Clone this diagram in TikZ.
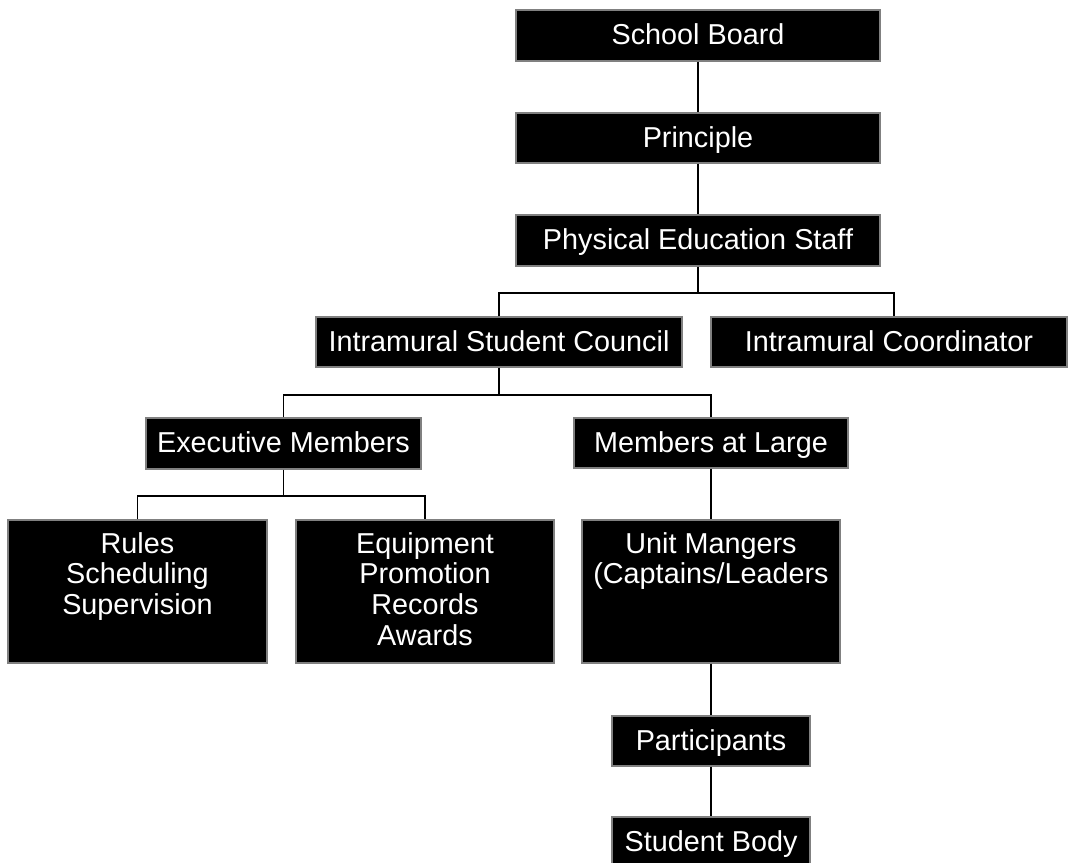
\documentclass[tikz,border=0pt]{standalone}
\usepackage{fontspec}
\setmainfont{Liberation Sans}
\definecolor{edgegray}{RGB}{128,128,128}
\begin{document}
\begin{tikzpicture}[x=1pt, y=-1pt,
        unit/.style={draw=edgegray, fill=black, text=white, line width=1.2pt, inner sep=0pt,
            text height=21pt, text depth=3pt, font=\fontsize{28.8}{30.7}\selectfont},
        bigunit/.style={draw=edgegray, fill=black, line width=1.2pt, inner sep=0pt},
        unittext/.style={text=white, align=center, inner sep=0pt, font=\fontsize{28.8}{30.7}\selectfont},
        link/.style={line width=1.2pt}]
        \useasboundingbox (0,0) rectangle (1068,862);
        \node[unit, minimum width=364pt, minimum height=51pt] (board) at (698,35.5) {School Board};
        \node[unit, minimum width=364pt, minimum height=50pt] (principle) at (698,138) {Principle};
        \node[unit, minimum width=364pt, minimum height=51pt] (pestaff) at (698,240.5) {Physical Education Staff};
        \node[unit, minimum width=366pt, minimum height=50pt] (council) at (499,342) {Intramural Student Council};
        \node[unit, minimum width=356pt, minimum height=50pt] (coord) at (889,342) {Intramural Coordinator};
        \node[unit, minimum width=275pt, minimum height=51pt] (exec) at (283.5,443.5) {Executive Members};
        \node[unit, minimum width=274pt, minimum height=50pt] (large) at (711,443) {Members at Large};
        \node[bigunit, minimum width=259pt, minimum height=143pt] (rules) at (137.5,591.5) {};
        \node[bigunit, minimum width=258pt, minimum height=143pt] (equip) at (425,591.5) {};
        \node[bigunit, minimum width=258pt, minimum height=143pt] (managers) at (711,591.5) {};
        \node[unittext, anchor=north] (rulesT) at (137.5,532) {Rules\\Scheduling\\Supervision};
        \node[unittext, anchor=north] (equipT) at (425,532) {Equipment\\Promotion\\Records\\Awards};
        \node[unittext, anchor=north] (managersT) at (711,532) {Unit Mangers\\(Captains/Leaders};
        \node[unit, minimum width=198pt, minimum height=50pt] (part) at (711,741) {Participants};
        \node[unit, minimum width=198pt, minimum height=50pt] (body) at (711,842) {Student Body};
        \coordinate (jA) at (698,293);
        \coordinate (jAr) at (894,293);
        \coordinate (jB) at (499,395);
        \coordinate (jC) at (283.5,496);
        \draw[link] (board) -- (principle);
        \draw[link] (principle) -- (pestaff);
        \draw[link] (pestaff.south) -- (jA);
        \draw[link] (council.north) |- (jAr) -- (jAr |- coord.north);
        \draw[link] (council.south) -- (jB);
        \draw[link] (exec.north) |- (jB) -| (large.north);
        \draw[link] (exec.south) -- (jC);
        \draw[link] (rules.north) |- (jC) -| (equip.north);
        \draw[link] (large) -- (managers);
        \draw[link] (managers) -- (part);
        \draw[link] (part) -- (body);
\end{tikzpicture}
\end{document}
